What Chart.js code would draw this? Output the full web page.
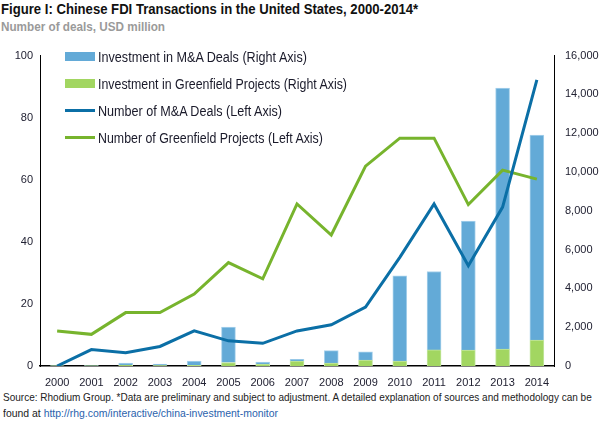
<!DOCTYPE html>
<html>
<head>
<meta charset="utf-8">
<script src="https://cdn.jsdelivr.net/npm/chart.js"></script>
<style>
  body { margin: 0; width: 601px; height: 423px; background: #fff; position: relative; overflow: hidden;
         font-family: "Liberation Sans", Arial, sans-serif; }
  .fit { position: absolute; white-space: nowrap; transform-origin: 0 0; }
  #title { left: 1px; top: 0px; font-size: 15px; font-weight: bold; color: #111; }
  #subtitle { left: 1px; top: 19px; font-size: 13px; font-weight: bold; color: #9a9a9a; }
  #chartBox { position: absolute; left: 0; top: 38px; }
  #legend { position: absolute; left: 65px; top: 43px; font-size: 14px; color: #1a1a2a; }
  #legend .row { height: 27px; display: flex; align-items: center; white-space: nowrap; }
  #legend .sw { width: 30px; margin-right: 3px; flex: none; }
  #legend .txt { display: inline-block; transform-origin: 0 50%; }
  .note { left: 3px; font-size: 11px; color: #222; }
  .note span { color: #2a62ad; }
</style>
</head>
<body>
<div id="title" class="fit" data-w="417">Figure I: Chinese FDI Transactions in the United States, 2000-2014*</div>
<div id="subtitle" class="fit" data-w="164">Number of deals, USD million</div>
<div id="chartBox"><canvas id="fdiChart" width="601" height="352"></canvas></div>
<div id="legend"></div>
<div class="fit note" style="top:391px" data-w="589">Source: Rhodium Group. *Data are preliminary and subject to adjustment. A detailed explanation of sources and methodology can be</div>
<div class="fit note" style="top:407px" data-w="275">found at <span>http://rhg.com/interactive/china-investment-monitor</span></div>
<script>
var years = ["2000", "2001", "2002", "2003", "2004", "2005", "2006", "2007", "2008", "2009", "2010", "2011", "2012", "2013", "2014"];
// USD million (right axis)
var maInvestment = [10, 20, 100, 80, 220, 1820, 100, 100, 640, 430, 4400, 4040, 6650, 13460, 10570];
var greenfieldInvestment = [10, 5, 50, 20, 30, 180, 100, 250, 150, 300, 250, 830, 820, 870, 1330];
// number of deals (left axis)
var maDeals = [0, 5.3, 4.3, 6.3, 11.3, 8.1, 7.3, 11.3, 13.3, 19, 35, 52.2, 32.3, 51.2, 92.2];
var greenfieldDeals = [11.3, 10.2, 17.2, 17.2, 23.2, 33.3, 28.1, 52.2, 42.2, 64.4, 73.4, 73.4, 52, 63.1, 60.2];

var leftTicks = [0, 20, 40, 60, 80, 100];
var rightTicks = [0, 2000, 4000, 6000, 8000, 10000, 12000, 14000, 16000];

var tickFont = { family: "'Liberation Sans', Arial, sans-serif", size: 11 };
var tickColor = "#222233";

var ctx = document.getElementById('fdiChart').getContext('2d');
var chart = new Chart(ctx, {
  data: {
    labels: years,
    datasets: [
      {
        type: 'line',
        label: 'Number of M&A Deals (Left Axis)',
        data: maDeals,
        yAxisID: 'yLeft',
        borderColor: '#0b6fa6',
        borderWidth: 3,
        pointRadius: 0,
        tension: 0,
        order: 0
      },
      {
        type: 'line',
        label: 'Number of Greenfield Projects (Left Axis)',
        data: greenfieldDeals,
        yAxisID: 'yLeft',
        borderColor: '#77b42d',
        borderWidth: 3,
        pointRadius: 0,
        tension: 0,
        order: 0
      },
      {
        type: 'bar',
        label: 'Investment in Greenfield Projects (Right Axis)',
        data: greenfieldInvestment,
        yAxisID: 'yRight',
        backgroundColor: '#a2d661',
        borderColor: '#c3e6a0',
        borderWidth: { left: 1, right: 1, top: 1, bottom: 0 },
        barThickness: 14,
        stack: 'inv',
        order: 1
      },
      {
        type: 'bar',
        label: 'Investment in M&A Deals (Right Axis)',
        data: maInvestment,
        yAxisID: 'yRight',
        backgroundColor: '#63aad7',
        borderColor: '#a9d2ec',
        borderWidth: { left: 1, right: 1, top: 1, bottom: 0 },
        barThickness: 14,
        stack: 'inv',
        order: 1
      }
    ]
  },
  options: {
    responsive: false,
    animation: false,
    layout: { padding: { top: 8, left: 0, right: 0, bottom: 0 } },
    plugins: {
      legend: { display: false },
      tooltip: { enabled: false }
    },
    scales: {
      x: {
        stacked: true,
        grid: { display: false, drawTicks: false },
        border: { display: true, color: '#000', width: 1.5 },
        ticks: { font: tickFont, color: tickColor, padding: 10, maxRotation: 0, autoSkip: false },
        afterFit: function (s) { s.height = 24; }
      },
      yLeft: {
        position: 'left',
        min: 0,
        max: 100,
        afterBuildTicks: function (s) { s.ticks = leftTicks.map(function (v) { return { value: v }; }); },
        grid: { display: false, drawTicks: false },
        border: { display: true, color: '#000', width: 1 },
        ticks: { font: tickFont, color: tickColor, padding: 7 },
        afterFit: function (s) { s.width = 40; }
      },
      yRight: {
        position: 'right',
        stacked: true,
        min: 0,
        max: 16000,
        afterBuildTicks: function (s) { s.ticks = rightTicks.map(function (v) { return { value: v }; }); },
        grid: { display: false, drawTicks: false },
        border: { display: true, color: '#000', width: 1 },
        ticks: {
          font: tickFont, color: tickColor, padding: 11,
          callback: function (v) { return v.toLocaleString('en-US'); }
        },
        afterFit: function (s) { s.width = 47; }
      }
    }
  }
});

// legend in the order of the original figure, with the target text widths
var legendOrder = [3, 2, 0, 1];
var legendWidths = [209, 249, 184, 225];
var legendBox = document.getElementById('legend');
legendOrder.forEach(function (i, k) {
  var ds = chart.data.datasets[i];
  var row = document.createElement('div');
  row.className = 'row';
  var sw = document.createElement('span');
  sw.className = 'sw';
  if (ds.type === 'bar') {
    sw.style.height = '9px';
    sw.style.background = ds.backgroundColor;
  } else {
    sw.style.height = '3px';
    sw.style.background = ds.borderColor;
  }
  var txt = document.createElement('span');
  txt.className = 'txt';
  txt.textContent = ds.label;
  txt.setAttribute('data-w', legendWidths[k]);
  row.appendChild(sw);
  row.appendChild(txt);
  legendBox.appendChild(row);
});

// squeeze text to the condensed widths of the original typeface
document.querySelectorAll('[data-w]').forEach(function (el) {
  var w = el.getBoundingClientRect().width;
  var target = +el.getAttribute('data-w');
  if (w > 0) el.style.transform = 'scaleX(' + (target / w).toFixed(3) + ')';
});
</script>
</body>
</html>
